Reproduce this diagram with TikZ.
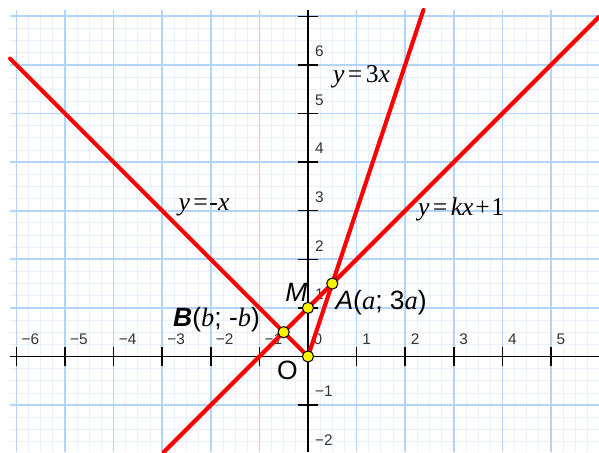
\documentclass[tikz,border=0pt]{standalone}
\usepackage{fontspec}
\setmainfont{Liberation Serif}
\setsansfont{Liberation Sans}
\usepackage{xcolor}
\usepackage{tikz}
\definecolor{gridmajor}{RGB}{178,212,248}
\definecolor{gridminor}{RGB}{234,240,251}
\definecolor{linered}{RGB}{255,0,0}

\begin{document}
\begin{tikzpicture}[
  ray/.style={linered, line width=2.4pt, line cap=round},
  pt/.style={circle, draw=black, fill=yellow, line width=0.6pt, inner sep=0pt, minimum size=2.3mm},
  ticklbl/.style={anchor=base west, inner sep=0pt, text=black!80, font=\sffamily\fontsize{9}{10}\selectfont},
  eqlbl/.style={anchor=base west, inner sep=0pt, font=\fontsize{15}{17}\selectfont},
  ptlbl/.style={anchor=base west, inner sep=0pt, font=\fontsize{15.5}{17}\selectfont}]
  \useasboundingbox (-6.337,-1.967) rectangle (5.988,7.335);
  \fill[white] (-6.337,-1.967) rectangle (5.988,7.335);
  % grid
  \draw[gridminor, line width=0.5pt] (-6.13,-1.967) grid[step=0.25] (5.988,7.13);
  \draw[gridmajor, line width=1pt] (-6.13,-1.967) grid[step=1] (5.988,7.13);
  % axes and ticks
  \draw[black, line width=0.9pt] (-6.13,0) -- (5.988,0);
  \draw[black, line width=0.9pt] (0,-1.967) -- (0,7.13);
  \foreach \i in {-6,...,-1,1,2,...,5}
    \draw[black, line width=0.9pt] (\i,-0.2) -- (\i,0.2);
  \foreach \j in {-1,1,2,...,7}
    \draw[black, line width=0.9pt] (-0.2,\j) -- (0.2,\j);
  \foreach \i in {1,...,6}
    \node[ticklbl] (xm\i) at (-\i+0.1,0.24) {−\i};
  \foreach \i in {1,...,5}
    \node[ticklbl] (xp\i) at (\i+0.11,0.24) {\i};
  \node[ticklbl] (x0) at (0.11,0.24) {0};
  \foreach \j in {1,2}
    \node[ticklbl] (ym\j) at (0.14,-\j+0.17) {−\j};
  \foreach \j in {1,...,6}
    \node[ticklbl] (yp\j) at (0.14,\j+0.17) {\j};
  % points and ends of the lines
  \coordinate (O) at (0,0);
  \coordinate (M) at (0,1);
  \coordinate (A) at (0.5,1.5);
  \coordinate (B) at (-0.5,0.5);
  \coordinate (negend) at (-6.13,6.13);
  \coordinate (triend) at (2.377,7.13);
  \coordinate (kxlow) at (-2.967,-1.967);
  \coordinate (kxhigh) at (5.988,6.988);
  \draw[ray] (O) -- (negend);
  \draw[ray] (O) -- (triend);
  \draw[ray] (kxlow) -- (kxhigh);
  \node[pt] (Opt) at (O) {};
  \node[pt] (Mpt) at (M) {};
  \node[pt] (Apt) at (A) {};
  \node[pt] (Bpt) at (B) {};
  % labels
  \node[eqlbl] (eq3x) at (0.51,5.63) {\textit{y}\hspace{2pt}=\hspace{2pt}3\textit{x}};
  \node[eqlbl] (eqnx) at (-2.67,3.01) {\textit{y}\hspace{2pt}=\hspace{1pt}-\textit{x}};
  \node[eqlbl] (eqkx) at (2.26,2.91) {\textit{y}\hspace{2pt}=\hspace{2pt}\textit{kx}\hspace{1pt}+\hspace{1pt}1};
  \node[ptlbl] (Mlbl) at (-0.47,1.13) {\sffamily\itshape M};
  \node[ptlbl] (Albl) at (0.56,0.96) {{\sffamily\itshape A}{\sffamily(}\textit{a}{\sffamily; 3}\textit{a}{\sffamily)}};
  \node[ptlbl] (Blbl) at (-2.78,0.61) {{\sffamily\bfseries\itshape B}{\sffamily(}\textit{b}{\sffamily; -}\textit{b}{\sffamily)}};
  \node[ptlbl] (Olbl) at (-0.64,-0.48) {\sffamily O};
\end{tikzpicture}
\end{document}
